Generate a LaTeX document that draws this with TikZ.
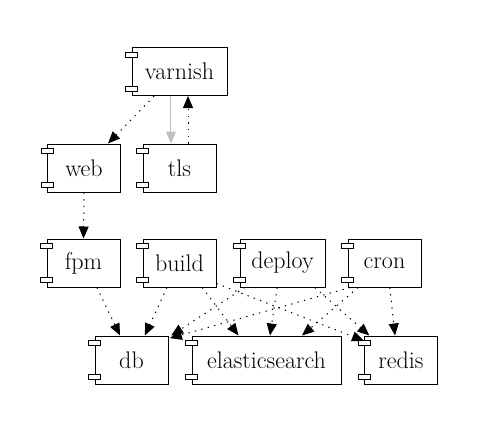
\documentclass[tikz,border=0pt]{standalone}
\usetikzlibrary{arrows.meta}
\begin{document}
\begin{tikzpicture}[x=0.75pt,y=-0.75pt,line width=0.75pt,
    comp node/.style={rectangle,draw,minimum width=54.75pt,minimum height=36pt,inner xsep=4pt,font=\fontsize{18}{21}\selectfont},
    tab/.style={draw,fill=white,line width=0.75pt},
    dep/.style={dash pattern=on 1pt off 4pt,-{Triangle[length=9pt,width=7.5pt]}},
    tunnel/.style={draw=black!25,-{Triangle[length=9pt,width=7.5pt,fill=black!25]}}]
        \useasboundingbox (0,0) rectangle (485,432);
        \node[comp node, minimum width=71.25pt] at (179.5, 71.5) (varnish) {varnish};
        \node[comp node] at (84, 168) (web) {web};
        \node[comp node] at (179.5, 168) (tls) {tls};
        \node[comp node] at (83.5, 263) (fpm) {fpm};
        \node[comp node] at (179.5, 263) (build) {build};
        \node[comp node, minimum width=63.75pt] at (282.5, 263) (deploy) {deploy};
        \node[comp node] at (384.5, 263) (cron) {cron};
        \node[comp node] at (131.5, 360) (db) {db};
        \node[comp node, minimum width=111.75pt] at (266.5, 360) (elasticsearch) {elasticsearch};
        \node[comp node] at (401, 360) (redis) {redis};

        \foreach \n in {varnish,web,tls,fpm,build,deploy,cron,db,elasticsearch,redis} {
            \draw[tab] ([xshift=-4.5pt,yshift=-3.75pt]\n.north west) rectangle ([xshift=4.5pt,yshift=-7.5pt]\n.north west);
            \draw[tab] ([xshift=-4.5pt,yshift=3.75pt]\n.south west) rectangle ([xshift=4.5pt,yshift=7.5pt]\n.south west);
        }

        \path
            ([xshift=-19pt]varnish.south) edge[dep] ([xshift=18pt]web.north)
            ([xshift=-6.4pt]varnish.south) edge[tunnel] ([xshift=-6.4pt]tls.north)
            ([xshift=6.4pt]tls.north) edge[dep] ([xshift=6.4pt]varnish.south)
            (web.south) edge[dep] (fpm.north)
            ([xshift=10pt]fpm.south) edge[dep] ([xshift=-8.6pt]db.north)
            ([xshift=-9.4pt]build.south) edge[dep] ([xshift=10pt]db.north)
            ([xshift=17pt]build.south) edge[dep] ([xshift=-21pt]elasticsearch.north)
            ([yshift=3pt]build.south east) edge[dep] ([yshift=-4pt]redis.north west)
            ([xshift=4pt]deploy.south west) edge[dep] ([xshift=2pt]db.north east)
            ([xshift=-4pt]deploy.south) edge[dep] ([xshift=2.6pt]elasticsearch.north)
            ([xshift=-8pt]deploy.south east) edge[dep] ([xshift=4pt]redis.north west)
            ([xshift=2pt]cron.south west) edge[dep] ([xshift=1pt,yshift=-2pt]db.north east)
            ([xshift=8pt]cron.south west) edge[dep] ([xshift=26.6pt]elasticsearch.north)
            ([xshift=4pt]cron.south) edge[dep] ([xshift=-4.5pt]redis.north)
            ;
\end{tikzpicture}
\end{document}
